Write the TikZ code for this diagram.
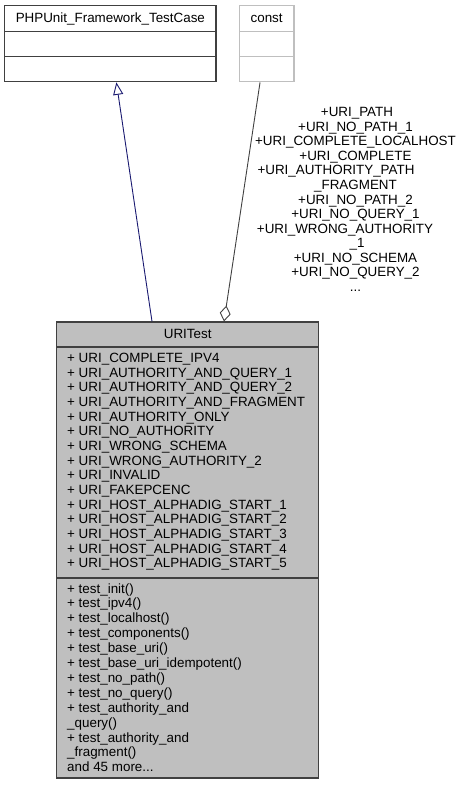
\documentclass[tikz,border=0pt]{standalone}
\usepackage{fontspec}
\setmainfont{Liberation Sans}
\usetikzlibrary{arrows.meta}
\definecolor{doxy_gray}{HTML}{BFBFBF}
\definecolor{doxy_dark}{HTML}{404040}
\definecolor{doxy_blue}{HTML}{191970}
\newcommand{\moredots}{...}

\begin{document}
\begin{tikzpicture}[x=1pt, y=-1pt, font=\fontsize{13.4}{14.6}\selectfont,
  boxpart/.style={rectangle, draw=doxy_dark, line width=1.2pt, inner sep=0pt, text height=10pt, text depth=3pt},
  memberline/.style={anchor=base west, inner sep=0pt},
  inherit/.style={draw=doxy_blue, line width=0.9pt, -{Triangle[open, length=12.5pt, width=10pt]}},
  aggregate/.style={draw=doxy_dark, line width=0.9pt, -{Diamond[open, length=16pt, width=11pt]}}]
\useasboundingbox (0,0) rectangle (461,785);
\node (BaseName) [boxpart, minimum width=211.3, minimum height=26] at (110.35,18.7) {PHPUnit\_Framework\_TestCase};
\node (BaseAttr) [boxpart, minimum width=211.3, minimum height=25] at (110.35,44.2) {};
\node (BaseOps) [boxpart, minimum width=211.3, minimum height=25] at (110.35,69.2) {};
\node (ConstName) [boxpart, draw=doxy_gray, minimum width=54.7, minimum height=26] at (266.65,18.7) {const};
\node (ConstAttr) [boxpart, draw=doxy_gray, minimum width=54.7, minimum height=25] at (266.65,44.2) {};
\node (ConstOps) [boxpart, draw=doxy_gray, minimum width=54.7, minimum height=25] at (266.65,69.2) {};
\node (UriName) [boxpart, fill=doxy_gray, minimum width=262, minimum height=25] at (187.7,334.5) {URITest};
\node (UriAttr) [boxpart, fill=doxy_gray, minimum width=262, minimum height=231] at (187.7,462.5) {};
\node (UriOps) [boxpart, fill=doxy_gray, minimum width=262, minimum height=200] at (187.7,678) {};
\foreach \txt [count=\i from 0] in {COMPLETE\_IPV4, AUTHORITY\_AND\_QUERY\_1, AUTHORITY\_AND\_QUERY\_2,
    AUTHORITY\_AND\_FRAGMENT, AUTHORITY\_ONLY, NO\_AUTHORITY, WRONG\_SCHEMA, WRONG\_AUTHORITY\_2,
    INVALID, FAKEPCENC, HOST\_ALPHADIG\_START\_1, HOST\_ALPHADIG\_START\_2, HOST\_ALPHADIG\_START\_3,
    HOST\_ALPHADIG\_START\_4, HOST\_ALPHADIG\_START\_5}
  \node (attr\i) [memberline] at (67,362.7+14.64*\i) {+ URI\_\txt};
\foreach \txt [count=\i from 0] in {+ test\_init(), + test\_ipv4(), + test\_localhost(), + test\_components(),
    + test\_base\_uri(), + test\_base\_uri\_idempotent(), + test\_no\_path(), + test\_no\_query(),
    + test\_authority\_and, \_query(), + test\_authority\_and, \_fragment(), and 45 more\moredots}
  \node (op\i) [memberline] at (67,593+14.9*\i) {\txt};
\draw [inherit] ([xshift=-35.7]UriName.north) -- ([xshift=6]BaseOps.south);
\draw [aggregate] ([xshift=-6.6]ConstOps.south) -- ([xshift=36.3]UriName.north);
\foreach \txt/\lx [count=\i from 0] in {+URI\_PATH/357, +URI\_NO\_PATH\_1/355.5, +URI\_COMPLETE\_LOCALHOST/355.5,
    +URI\_COMPLETE/355.5, +URI\_AUTHORITY\_PATH/336, \_FRAGMENT/355.5, +URI\_NO\_PATH\_2/355.5,
    +URI\_NO\_QUERY\_1/355.5, +URI\_WRONG\_AUTHORITY/345, \_1/357, +URI\_NO\_SCHEMA/355.5,
    +URI\_NO\_QUERY\_2/355.5, \moredots/355.5}
  \node (lbl\i) [anchor=base, inner sep=0pt] at (\lx,116.7+14.55*\i) {\txt};
\end{tikzpicture}
\end{document}
